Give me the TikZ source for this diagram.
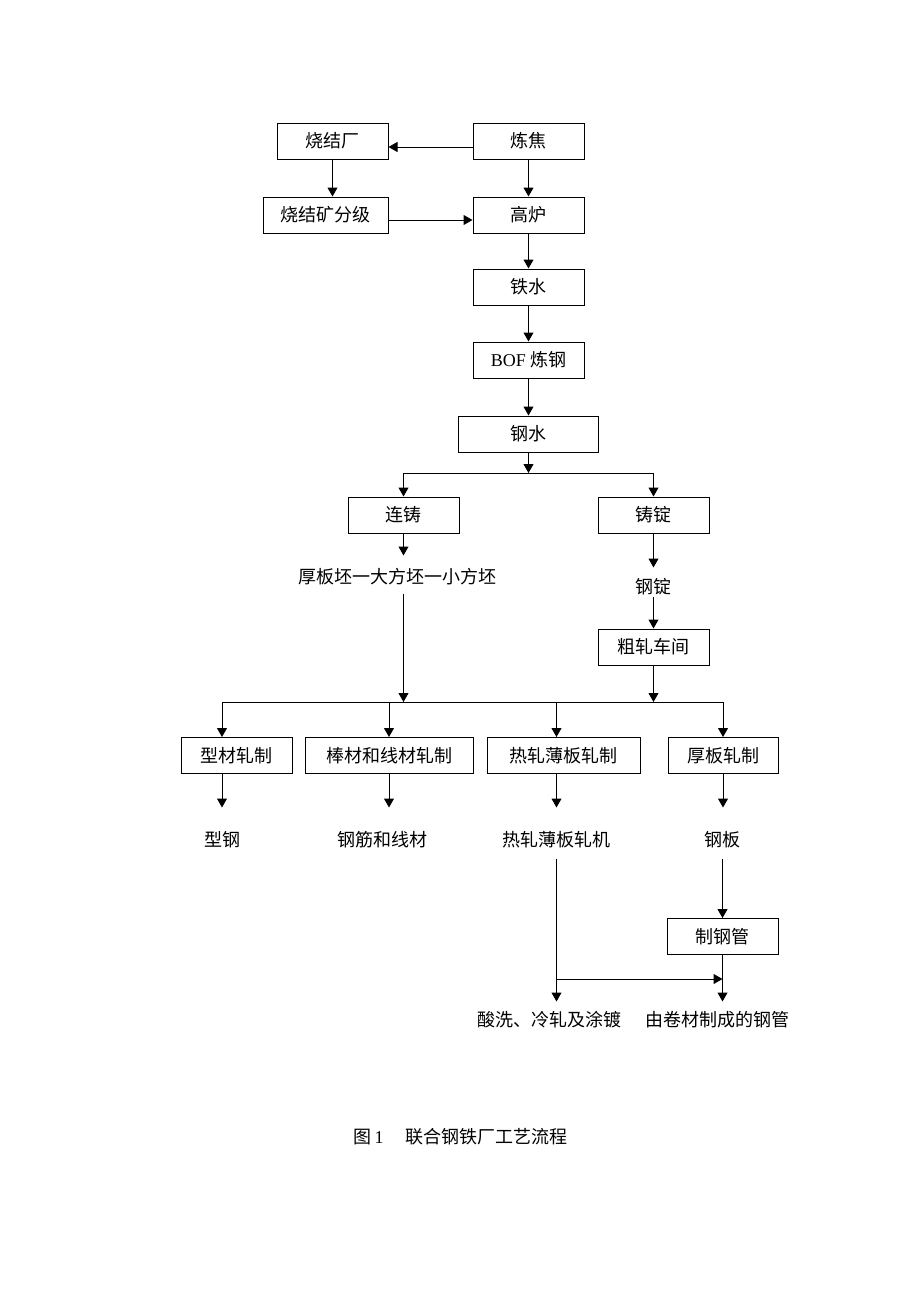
\documentclass[tikz,border=0pt]{standalone}
\usepackage{fontspec}
\setmainfont{Liberation Serif}
\newfontfamily\cjk{Noto Sans CJK SC}
\usetikzlibrary{arrows.meta,positioning}

\begin{document}
\begin{tikzpicture}[x = 1pt, y = -1pt, >={Triangle[length=9pt,width=10pt]}, line width = 1pt, font = \cjk\fontsize{18}{21}\selectfont]

\tikzstyle{block} = [rectangle, draw, minimum width = 111pt, minimum height = 36pt, inner sep = 2pt]

\tikzstyle{txt_block} = [inner xsep = 0pt, inner ysep = 0pt, text height = 15pt, text depth = 3pt]

\useasboundingbox (0,0) rectangle (920,1302);

% ironmaking
\node [block] (lianjiao) at (528.5,141) {炼焦};
\node [block, left = 84pt of lianjiao] (shaojie) {烧结厂};
\node [block, below = 37pt of lianjiao] (gaolu) {高炉};
\node [block, minimum width = 125pt, left = 84pt of gaolu] (fenji) {烧结矿分级};
\node [block, below = 35pt of gaolu] (tieshui) {铁水};
\node [block, below = 36pt of tieshui] (bof) {\textrm{BOF} 炼钢};
\node [block, minimum width = 140pt, below = 37pt of bof] (gangshui) {钢水};

% casting
\coordinate (split) at (528.5,473);
\node [block] (lianzhu) at (403.5,515) {连铸};
\node [block] (zhuding) at (653.5,515) {铸锭};
\node [txt_block] (slab) at (397,577) {厚板坯一大方坯一小方坯};
\node [txt_block] (gangding) at (653,587.5) {钢锭};
\node [block] (cuza) at (653.5,647) {粗轧车间};

% rolling
\coordinate (bus) at (389,702);
\node [block] (xingcai) at (236.5,755.5) {型材轧制};
\node [block, minimum width = 168pt] (bangcai) at (389,755.5) {棒材和线材轧制};
\node [block, minimum width = 153pt] (rezha) at (563.5,755.5) {热轧薄板轧制};
\node [block, minimum width = 110pt] (houban) at (723,755.5) {厚板轧制};

% products
\node [txt_block] (xinggang) at (222,840) {型钢};
\node [txt_block] (gangjin) at (382,840) {钢筋和线材};
\node [txt_block] (rezhaji) at (556.5,840) {热轧薄板轧机};
\node [txt_block] (gangban) at (722.5,840) {钢板};
\node [block] (zhiguan) at (722.5,936.5) {制钢管};
\coordinate (bend) at (556.5,979);
\node [txt_block] (suanxi) at (549,1020) {酸洗、冷轧及涂镀};
\node [txt_block] (juancai) at (717,1020) {由卷材制成的钢管};

\node [txt_block] (caption) at (460.5,1137) {图\,\textrm{1}\hspace{1.2em}联合钢铁厂工艺流程};

\path[->] ([yshift = -6pt]lianjiao.west) edge ([yshift = -6pt]shaojie.east);
\path[->] (shaojie.south) edge (shaojie.south |- fenji.north);
\path[->] ([yshift = -5pt]fenji.east) edge ([yshift = -5pt]gaolu.west);
\path[->] (lianjiao.south) edge (gaolu.north);
\path[->] (gaolu.south) edge (tieshui.north);
\path[->] (tieshui.south) edge (bof.north);
\path[->] (bof.south) edge (gangshui.north);

\path[->] (gangshui.south) edge (split);
\draw (lianzhu.north |- split) -- (zhuding.north |- split);
\path[->] (lianzhu.north |- split) edge (lianzhu.north);
\path[->] (zhuding.north |- split) edge (zhuding.north);
\path[->] (lianzhu.south) edge ([yshift = 12pt]lianzhu.south |- slab.north);
\path[->] (zhuding.south) edge ([yshift = 10.5pt]zhuding.south |- gangding.north);
\path[->] (cuza.north |- gangding.south) edge (cuza.north);

\path[->] ([yshift = -7pt]lianzhu.south |- slab.south) edge (lianzhu.south |- bus);
\path[->] (cuza.south) edge (cuza.south |- bus);
\draw (xinggang |- bus) -- (houban.north |- bus);
\path[->] (xinggang |- bus) edge (xinggang |- xingcai.north);
\path[->] (bangcai.north |- bus) edge (bangcai.north);
\path[->] (rezhaji |- bus) edge (rezhaji |- rezha.north);
\path[->] (houban.north |- bus) edge (houban.north);

\path[->] (xinggang |- xingcai.south) edge ([yshift = 23pt]xinggang.north);
\path[->] (bangcai.south) edge ([yshift = 23pt]bangcai.south |- gangjin.north);
\path[->] (rezhaji |- rezha.south) edge ([yshift = 23pt]rezhaji.north);
\path[->] (houban.south) edge ([yshift = 23pt]houban.south |- gangban.north);

\path[->] ([yshift = -9pt]rezhaji.south) edge ([yshift = 9pt]rezhaji.south |- suanxi.north);
\path[->] ([yshift = -9pt]gangban.south) edge (gangban.south |- zhiguan.north);
\path[->] (bend) edge (bend -| zhiguan.south);
\path[->] (zhiguan.south) edge ([yshift = 9pt]zhiguan.south |- juancai.north);

\end{tikzpicture}
\end{document}
